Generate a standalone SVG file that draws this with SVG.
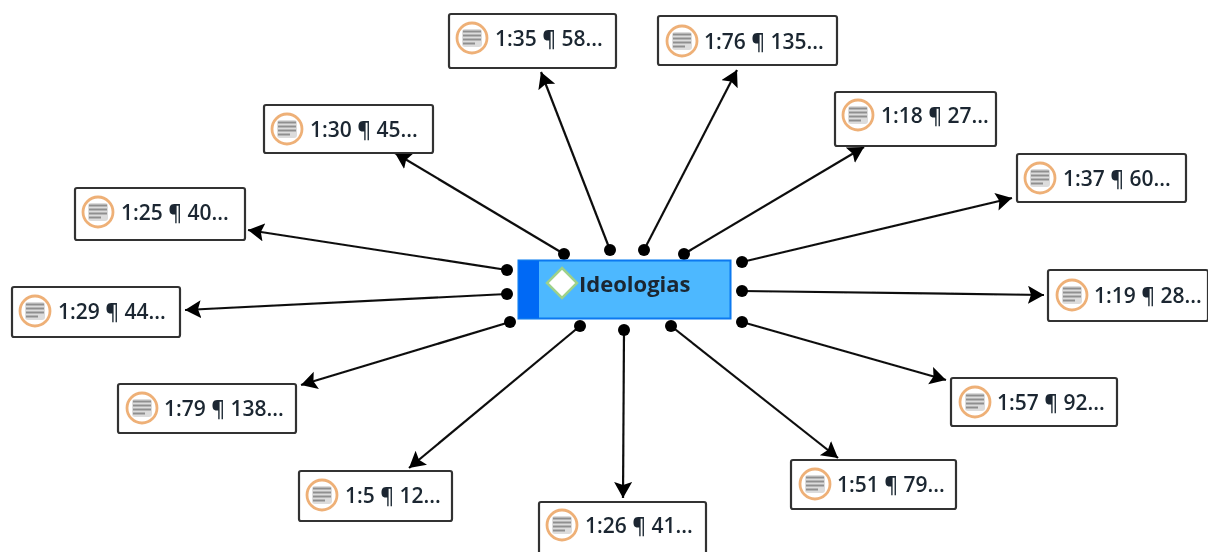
<svg xmlns="http://www.w3.org/2000/svg" width="1208" height="552" viewBox="0 0 1208 552">
<style>
text{font-family:"Open Sans","Noto Sans","DejaVu Sans",sans-serif;font-size:21px;font-weight:600;fill:#1a2730}
.t{font-size:22px;font-weight:700}
.box{fill:#fff;stroke:#333;stroke-width:2.200}
.ring{fill:#fff;stroke:#eeb077;stroke-width:2.800}
.ln{stroke:#8f8f8f;stroke-width:2.200}
.c{stroke:#111;stroke-width:2.200;fill:none;marker-end:url(#a)}
.d{fill:#000}
</style>
<defs>
<marker id="a" markerUnits="userSpaceOnUse" markerWidth="22" markerHeight="20" refX="16" refY="9" orient="auto"><path d="M0 0L16 9L0 18L3 9Z" fill="#000"/></marker>
<filter id="s" filterUnits="userSpaceOnUse" x="0" y="0" width="1208" height="552"><feGaussianBlur stdDeviation="0.500"/></filter>
<g id="ic"><circle cx="0" cy="0" r="15" class="ring"/><rect x="-10" y="-9" width="20" height="18" rx="3" fill="#dcdcdc"/><path class="ln" d="M-9-6.500H9M-9-2.500H9M-9 1.500H9M-9 5.500H3"/></g>
</defs>
<g filter="url(#s)">
<g id="connectors">
<path class="c" d="M564 254L395 153"/><circle class="d" cx="564" cy="254" r="6"/>
<path class="c" d="M610 250L541 72"/><circle class="d" cx="610" cy="250" r="6"/>
<path class="c" d="M644 250L737 70"/><circle class="d" cx="644" cy="250" r="6"/>
<path class="c" d="M684 254L864 147"/><circle class="d" cx="684" cy="254" r="6"/>
<path class="c" d="M742 262L1012 198"/><circle class="d" cx="742" cy="262" r="6"/>
<path class="c" d="M742 291L1044 295"/><circle class="d" cx="742" cy="291" r="6"/>
<path class="c" d="M742 322L946 380"/><circle class="d" cx="742" cy="322" r="6"/>
<path class="c" d="M671 326L838 458"/><circle class="d" cx="671" cy="326" r="6"/>
<path class="c" d="M624 330L623 498"/><circle class="d" cx="624" cy="330" r="6"/>
<path class="c" d="M580 326L409 468"/><circle class="d" cx="580" cy="326" r="6"/>
<path class="c" d="M510 322L301 385"/><circle class="d" cx="510" cy="322" r="6"/>
<path class="c" d="M507 294L185 310"/><circle class="d" cx="507" cy="294" r="6"/>
<path class="c" d="M507 270L248 230"/><circle class="d" cx="507" cy="270" r="6"/>
</g>
<g id="center">
<rect x="518.500" y="260.500" width="212" height="58" fill="#4db8ff" stroke="#0a78f0" stroke-width="2"/>
<rect x="519" y="261" width="20" height="57" fill="#0469f5"/>
<path d="M562 268L577 283L562 298L547 283Z" fill="#fff" stroke="#9ed18a" stroke-width="2.500"/>
<text class="t" x="579" y="292">Ideologias</text>
</g>
<g id="n35"><rect class="box" x="449" y="14" width="167" height="54" rx="2"/><use href="#ic" x="472" y="38"/><text x="495" y="46">1:35 ¶ 58...</text></g>
<g id="n76"><rect class="box" x="658" y="16" width="179" height="49" rx="2"/><use href="#ic" x="682" y="41"/><text x="704" y="49">1:76 ¶ 135...</text></g>
<g id="n18"><rect class="box" x="835" y="92" width="161" height="54" rx="2"/><use href="#ic" x="858" y="115"/><text x="881" y="123">1:18 ¶ 27...</text></g>
<g id="n37"><rect class="box" x="1017" y="154" width="169" height="48" rx="2"/><use href="#ic" x="1040" y="178"/><text x="1063" y="186">1:37 ¶ 60...</text></g>
<g id="n19"><rect class="box" x="1048" y="270" width="160" height="51" rx="2"/><use href="#ic" x="1072" y="295"/><text x="1094" y="303">1:19 ¶ 28...</text></g>
<g id="n57"><rect class="box" x="951" y="378" width="166" height="48" rx="2"/><use href="#ic" x="975" y="402"/><text x="997" y="410">1:57 ¶ 92...</text></g>
<g id="n51"><rect class="box" x="791" y="460" width="165" height="49" rx="2"/><use href="#ic" x="815" y="484"/><text x="837" y="492">1:51 ¶ 79...</text></g>
<g id="n26"><rect class="box" x="539" y="502" width="167" height="54" rx="2"/><use href="#ic" x="562" y="525"/><text x="585" y="533">1:26 ¶ 41...</text></g>
<g id="n5"><rect class="box" x="299" y="471" width="153" height="50" rx="2"/><use href="#ic" x="322" y="495"/><text x="345" y="503">1:5 ¶ 12...</text></g>
<g id="n79"><rect class="box" x="118" y="384" width="178" height="49" rx="2"/><use href="#ic" x="142" y="408"/><text x="164" y="416">1:79 ¶ 138...</text></g>
<g id="n29"><rect class="box" x="12" y="287" width="168" height="50" rx="2"/><use href="#ic" x="35" y="311"/><text x="58" y="319">1:29 ¶ 44...</text></g>
<g id="n25"><rect class="box" x="75" y="188" width="170" height="52" rx="2"/><use href="#ic" x="98" y="212"/><text x="121" y="220">1:25 ¶ 40...</text></g>
<g id="n30"><rect class="box" x="264" y="105" width="169" height="48" rx="2"/><use href="#ic" x="287" y="129"/><text x="310" y="137">1:30 ¶ 45...</text></g>
</g>
</svg>
